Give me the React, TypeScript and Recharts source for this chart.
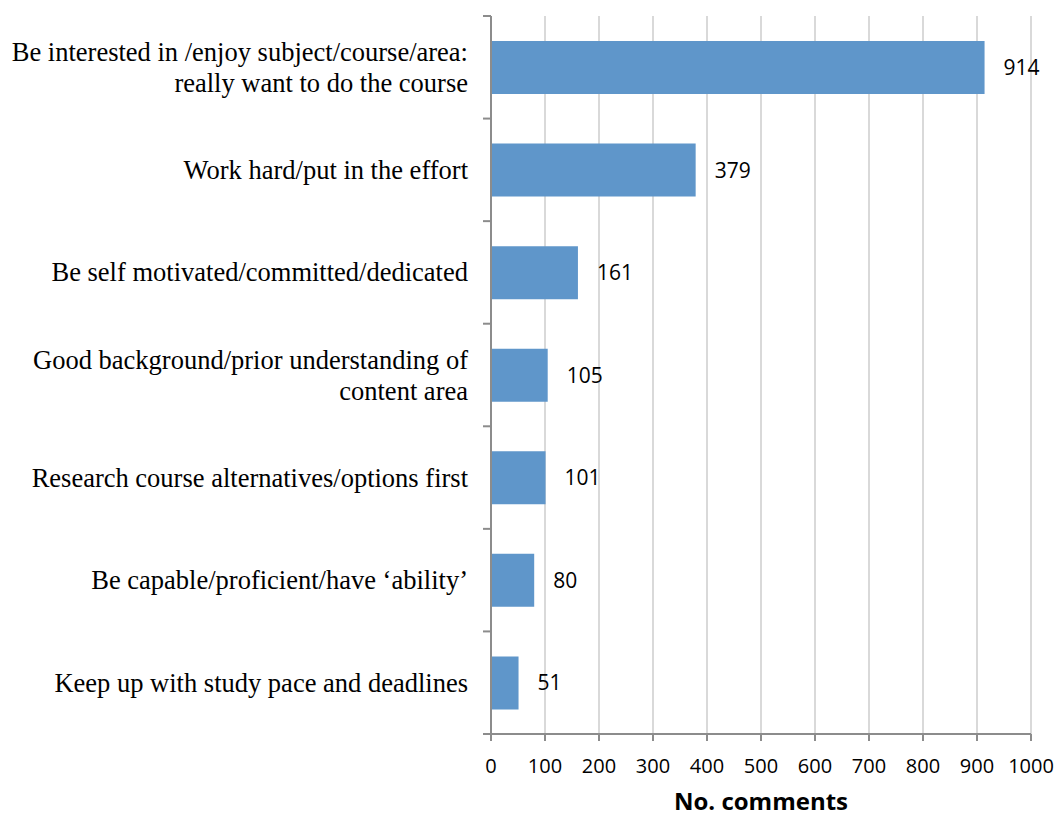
import React from "react";
import { Bar, BarChart, CartesianGrid, LabelList, XAxis, YAxis } from "recharts";

// Categories top to bottom, with their comment counts.
const CATEGORIES = [
  "Be interested in /enjoy subject/course/area:\nreally want to do the course",
  "Work hard/put in the effort",
  "Be self motivated/committed/dedicated",
  "Good background/prior understanding of\ncontent area",
  "Research course alternatives/options first",
  "Be capable/proficient/have \u2018ability\u2019",
  "Keep up with study pace and deadlines",
];
const COMMENTS = [914, 379, 161, 105, 101, 80, 51];
const X_TICKS = [0, 100, 200, 300, 400, 500, 600, 700, 800, 900, 1000];

const data = CATEGORIES.map((label, i) => ({ label, value: COMMENTS[i] }));

const W = 1056;
const H = 818;
const TOP = 16;
const X_AXIS_H = 84;
const AXIS_X = 491;
const BAND = (H - TOP - X_AXIS_H) / CATEGORIES.length;
const AXIS_COLOR = "#8c8c8c";

function CategoryTick(props: any) {
  const { y, payload, index } = props;
  const lines = String(payload.value).split("\n");
  const lh = 31;
  const y0 = y - ((lines.length - 1) * lh) / 2;
  const tx = AXIS_X - 23;
  return (
    <g>
      <line x1={AXIS_X - 8} x2={AXIS_X} y1={y - BAND / 2} y2={y - BAND / 2} stroke={AXIS_COLOR} strokeWidth={2} />
      {index === CATEGORIES.length - 1 && (
        <line x1={AXIS_X - 8} x2={AXIS_X} y1={y + BAND / 2} y2={y + BAND / 2} stroke={AXIS_COLOR} strokeWidth={2} />
      )}
      <text
        x={tx}
        y={y0}
        textAnchor="end"
        dominantBaseline="central"
        fontFamily="'Liberation Serif', 'Times New Roman', serif"
        fontSize={26.5}
        fill="#000"
      >
        {lines.map((l, i) => (
          <tspan key={i} x={tx} y={y0 + i * lh}>
            {l}
          </tspan>
        ))}
      </text>
    </g>
  );
}

export default function App() {
  return (
    <div style={{ position: "absolute", left: 0, top: 0, width: W, height: H, background: "#fff" }}>
      <BarChart
        width={W}
        height={H}
        data={data}
        layout="vertical"
        margin={{ top: TOP, right: 25, bottom: 0, left: 0 }}
        barSize={53}
      >
        <CartesianGrid horizontal={false} stroke="#d9d9d9" strokeWidth={2} />
        <XAxis
          type="number"
          domain={[0, 1000]}
          ticks={X_TICKS}
          interval={0}
          height={X_AXIS_H}
          stroke={AXIS_COLOR}
          strokeWidth={2}
          tickSize={7}
          tick={{ fill: "#000", fontSize: 20, fontFamily: "'Open Sans', sans-serif", dy: 16 }}
          label={{
            value: "No. comments",
            position: "insideBottom",
            offset: 8,
            style: { fontSize: 24, fontWeight: 700, fontFamily: "'Open Sans', sans-serif", fill: "#000" },
          }}
        />
        <YAxis
          type="category"
          dataKey="label"
          width={AXIS_X}
          interval={0}
          stroke={AXIS_COLOR}
          strokeWidth={2}
          tickLine={false}
          tick={<CategoryTick />}
        />
        <Bar dataKey="value" fill="#5f96ca" isAnimationActive={false}>
          <LabelList
            dataKey="value"
            position="right"
            offset={19}
            style={{ fontSize: 21, fontFamily: "'Open Sans', sans-serif", fill: "#000" }}
          />
        </Bar>
      </BarChart>
    </div>
  );
}
